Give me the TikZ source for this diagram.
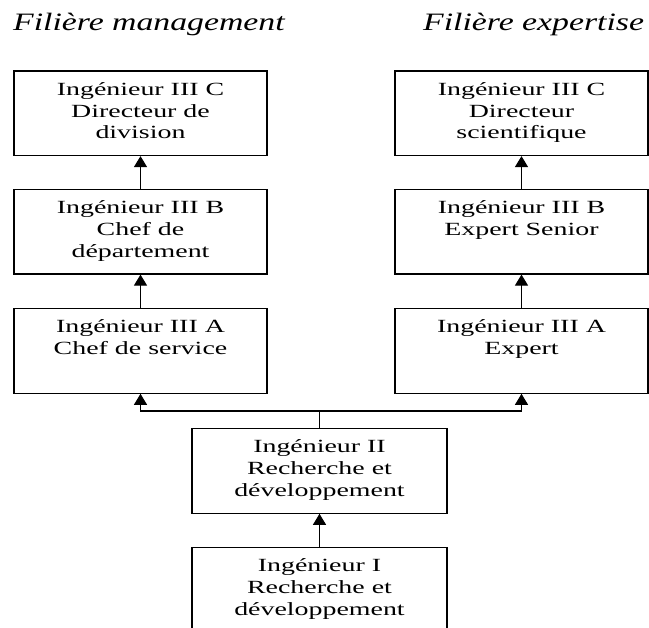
\documentclass[tikz,border=0pt]{standalone}
\usepackage{fontspec}
\setmainfont{Liberation Serif}
\newfontfamily\boxfont{Liberation Serif}[FakeStretch=1.5]
\newfontfamily\titlefont{Liberation Serif}[FakeStretch=1.35]
\usetikzlibrary{arrows.meta}

\newcommand{\celltext}[1]{\parbox[c][84pt][t]{245pt}{\centering\vspace{11pt}#1}}

\begin{document}
\begin{tikzpicture}[%
      x=1pt, y=-1pt,
      stepbox/.style={draw, line width=1.1pt, minimum width=253pt, minimum height=84.5pt,
        inner sep=0pt, font=\boxfont\fontsize{18.6}{21.8}\selectfont},
      arr/.style={line width=1.1pt, -{Triangle[width=13pt,length=11pt]}},
      heading/.style={anchor=base west, inner sep=0pt, font=\titlefont\itshape\fontsize{25}{28}\selectfont},
      ]
      \clip (0,0) rectangle (649,628);

      \node[heading] (tman) at (13,30.7) {Filière management};
      \node[heading] (texp) at (423,30.7) {Filière expertise};

      % filiere management
      \node[stepbox] (mC) at (140.5,113.3) {\celltext{Ingénieur III C\\Directeur de\\division}};
      \node[stepbox] (mB) at (140.5,231.8) {\celltext{Ingénieur III B\\Chef de\\département}};
      \node[stepbox] (mA) at (140.5,351) {\celltext{Ingénieur III A\\Chef de service}};

      % filiere expertise
      \node[stepbox] (xC) at (521.5,113.3) {\celltext{Ingénieur III C\\Directeur\\scientifique}};
      \node[stepbox] (xB) at (521.5,231.8) {\celltext{Ingénieur III B\\Expert Senior}};
      \node[stepbox] (xA) at (521.5,351) {\celltext{Ingénieur III A\\Expert}};

      % tronc commun
      \node[stepbox, minimum width=255pt] (e2) at (319.5,471) {\celltext{Ingénieur II\\Recherche et\\développement}};
      \node[stepbox, minimum width=255pt] (e1) at (319.5,590) {\celltext{Ingénieur I\\Recherche et\\développement}};

      \coordinate (fork) at (e2.north |- 0,411);

      \draw[arr] (mB) -- (mC);
      \draw[arr] (mA) -- (mB);
      \draw[arr] (xB) -- (xC);
      \draw[arr] (xA) -- (xB);
      \draw[arr] (e1) -- (e2);
      \draw[line width=1.1pt] (e2.north) -- (fork);
      \draw[arr] (fork) -| (mA.south);
      \draw[arr] (fork) -| (xA.south);
      \end{tikzpicture}
\end{document}
